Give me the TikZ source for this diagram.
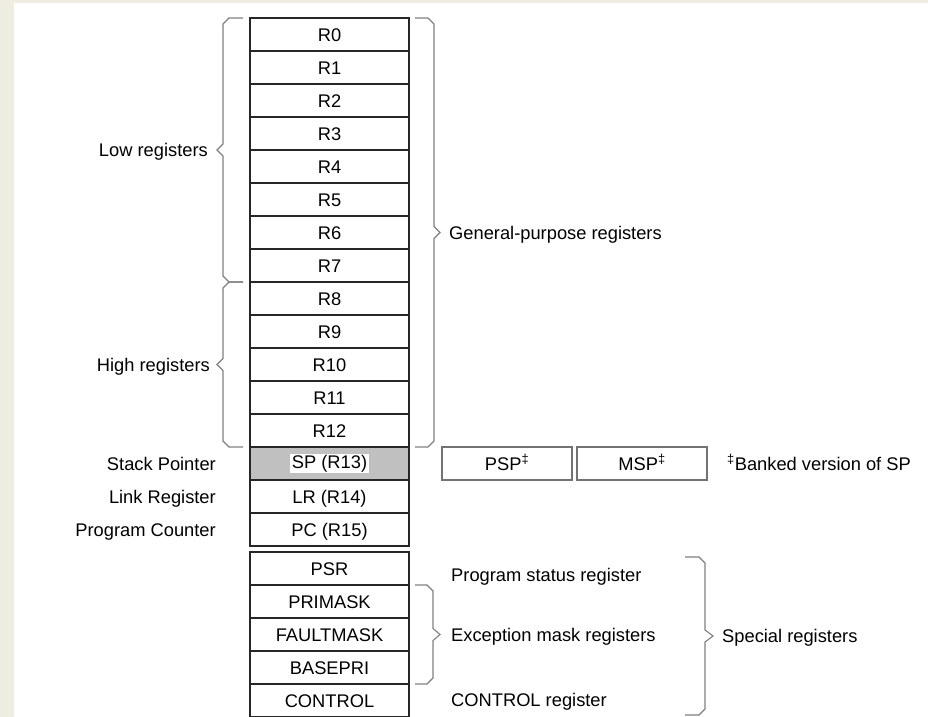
\documentclass[tikz,border=0pt]{standalone}
\usepackage{fontspec}
\setmainfont{Liberation Sans}
\definecolor{bgc}{RGB}{239,236,226}
\definecolor{spgray}{RGB}{192,192,192}
\newcommand\brL[5]{% xe xv xt y1 y2 : tip pointing left
  \draw[brc] (#1,#4) -- ({#2+6},#4) -- (#2,{#4+6}) -- (#2,{(#4+#5)/2-6}) -- (#3,{(#4+#5)/2}) -- (#2,{(#4+#5)/2+6}) -- (#2,{#5-6}) -- ({#2+6},#5) -- (#1,#5);}
\newcommand\brR[5]{% xe xv xt y1 y2 : tip pointing right
  \draw[brc] (#1,#4) -- ({#2-6},#4) -- (#2,{#4+6}) -- (#2,{(#4+#5)/2-6}) -- (#3,{(#4+#5)/2}) -- (#2,{(#4+#5)/2+6}) -- (#2,{#5-6}) -- ({#2-6},#5) -- (#1,#5);}
\begin{document}
\begin{tikzpicture}[x=1bp,y=-1bp,
  reg/.style={draw=black!85, line width=1.1bp, minimum width=159bp, minimum height=33bp,
    inner sep=0pt, text height=13.2bp, text depth=0bp, font=\fontsize{18.3bp}{22bp}\selectfont},
  sbox/.style={draw=black!55, line width=1.2bp, minimum width=130bp, minimum height=33bp,
    inner sep=0pt, text height=13.2bp, text depth=0bp, font=\fontsize{18.3bp}{22bp}\selectfont},
  lbl/.style={inner sep=0pt, font=\fontsize{18.3bp}{22bp}\selectfont},
  brc/.style={draw=black!50, line width=1.1bp}]
\fill[bgc] (0,0) rectangle (928,717);
\fill[white] (14,3) rectangle (928,717);
\useasboundingbox (0,0) rectangle (928,717);

% general registers
\foreach \i in {0,...,12}{
  \node[reg] (r\i) at (329.5,{34.5+33*\i}) {R\i};
}
\node[reg, fill=spgray] (sp) at (329.5,463.5) {};
\node[lbl, fill=white, inner xsep=1.5bp, inner ysep=1bp] (sptext) at (sp) {SP (R13)};
\node[reg] (lr) at (329.5,496.5) {LR (R14)};
\node[reg] (pc) at (329.5,529.5) {PC (R15)};

% special registers
\node[reg] (psr) at (329.5,568.5) {PSR};
\node[reg] (primask) at (329.5,601.5) {PRIMASK};
\node[reg] (faultmask) at (329.5,634.5) {FAULTMASK};
\node[reg] (basepri) at (329.5,667.5) {BASEPRI};
\node[reg] (control) at (329.5,700.5) {CONTROL};

% banked SP
\node[sbox] (psp) at (507,463.5) {PSP\textsuperscript{‡}};
\node[sbox] (msp) at (642,463.5) {MSP\textsuperscript{‡}};
\node[lbl, anchor=base west] (bank) at (727,470) {\textsuperscript{‡}Banked version of SP};

% braces
\brL{243}{223}{217}{18}{282}
\brL{243}{223}{217}{282}{447}
\brR{415}{434}{440}{18}{447}
\brR{415}{433}{440}{585}{684}
\brR{685}{705}{713}{557}{715}

% left labels
\node[lbl, anchor=base east] (low) at (208,156.5) {Low registers};
\node[lbl, anchor=base east] (high) at (210,371) {High registers};
\node[lbl, anchor=base east] (splbl) at (216,470) {Stack Pointer};
\node[lbl, anchor=base east] (lrlbl) at (216,503) {Link Register};
\node[lbl, anchor=base east] (pclbl) at (216,536) {Program Counter};

% right labels
\node[lbl, anchor=base west] (gp) at (449,239) {General-purpose registers};
\node[lbl, anchor=base west] (psrlbl) at (451,581.5) {Program status register};
\node[lbl, anchor=base west] (exc) at (451,641.5) {Exception mask registers};
\node[lbl, anchor=base west] (ctl) at (451,706.5) {CONTROL register};
\node[lbl, anchor=base west] (spec) at (722,642) {Special registers};
\end{tikzpicture}
\end{document}
